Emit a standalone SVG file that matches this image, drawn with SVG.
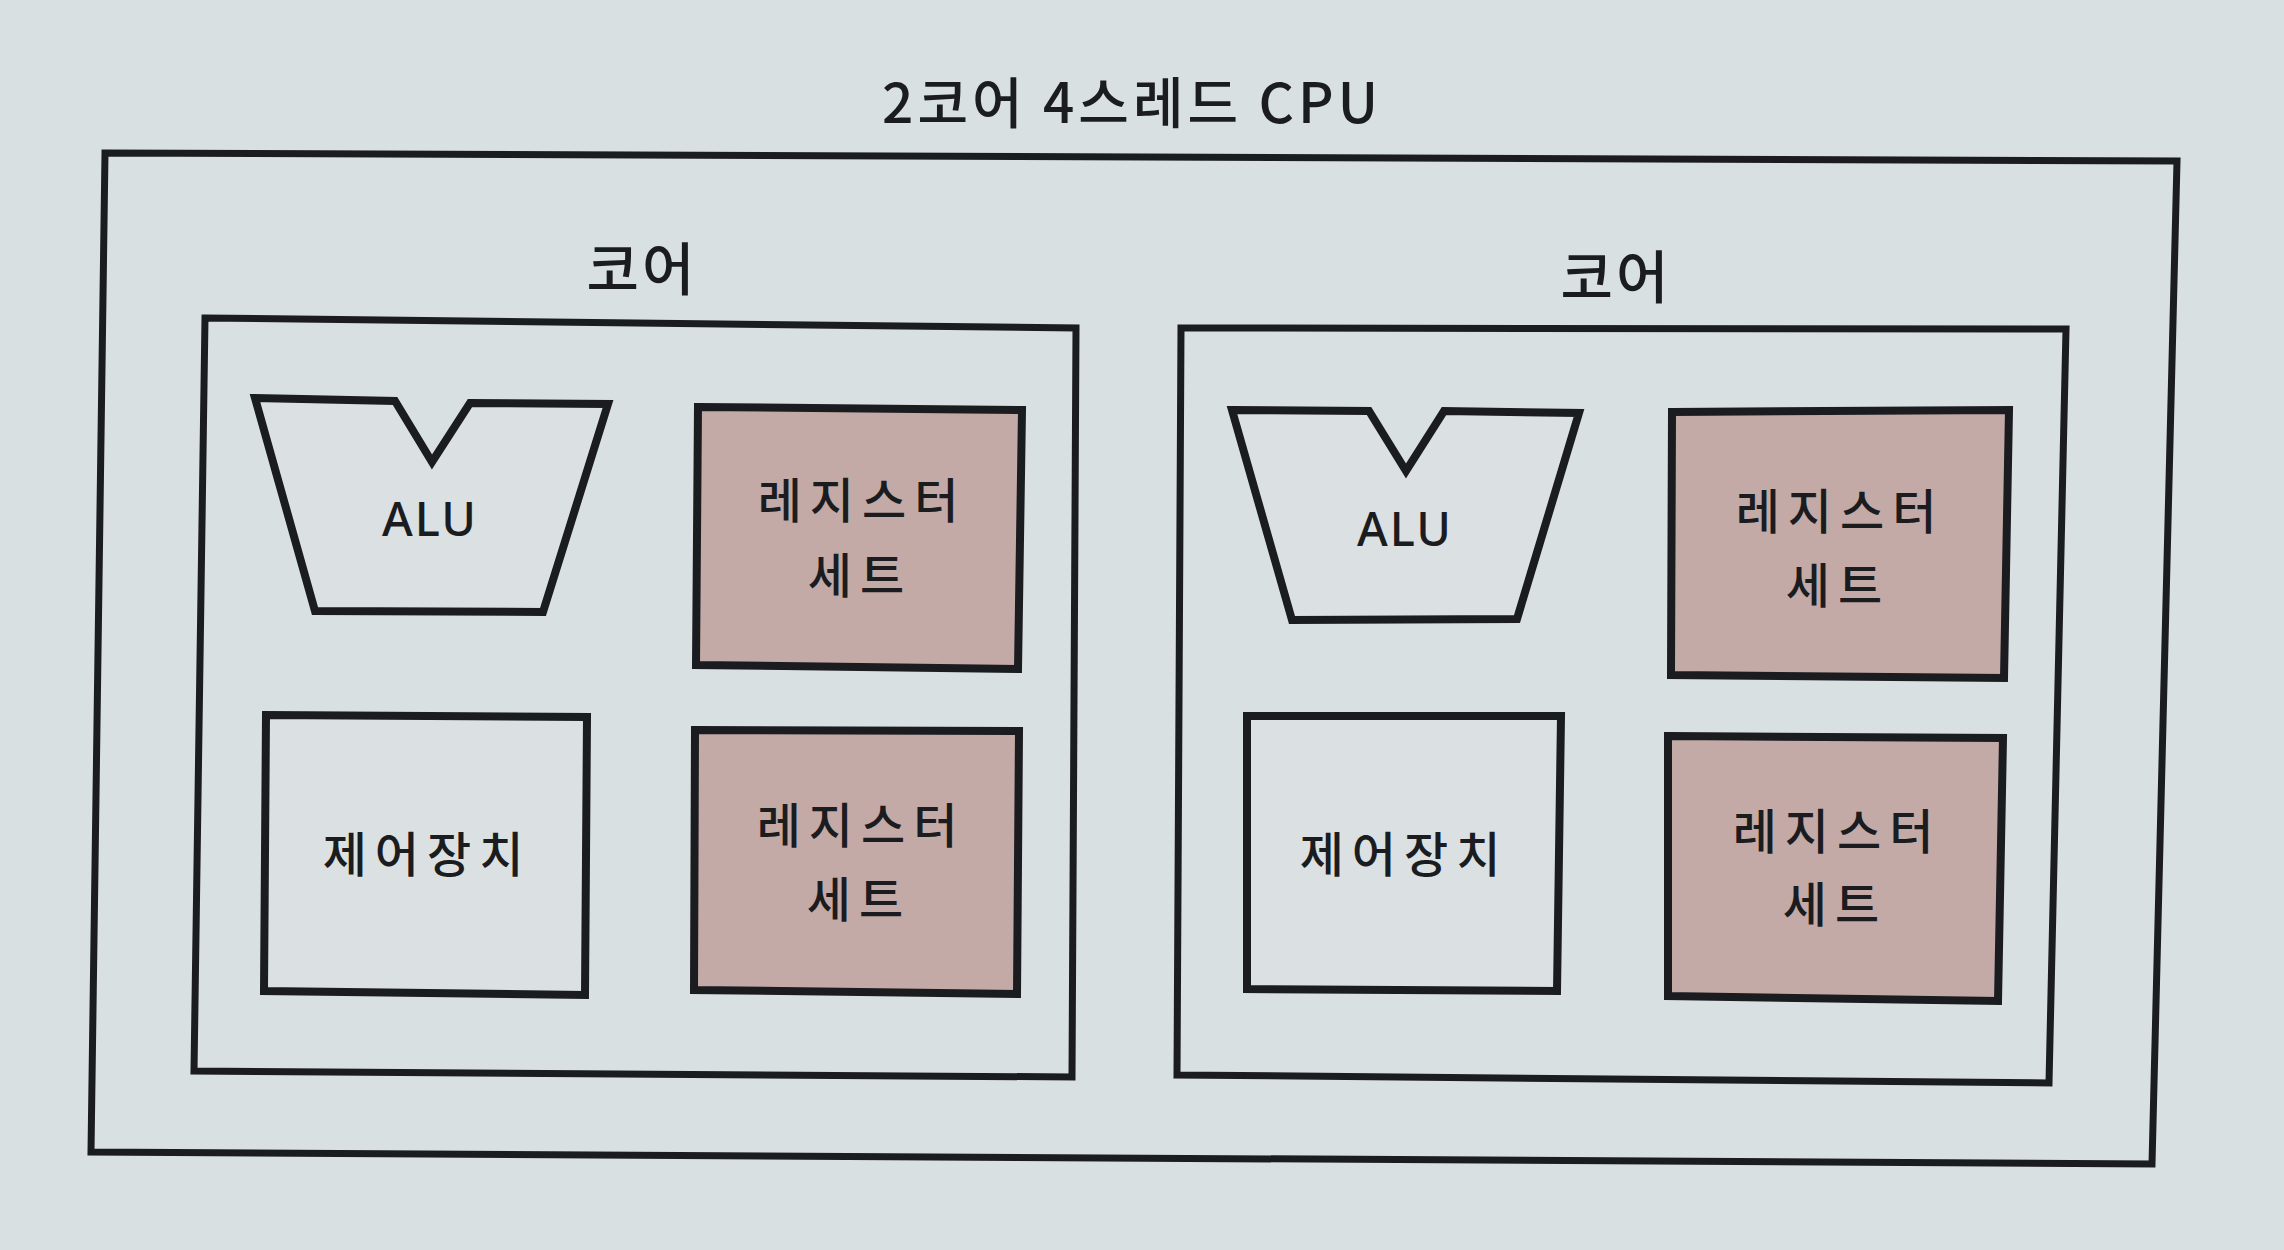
<svg xmlns="http://www.w3.org/2000/svg" width="2284" height="1250" viewBox="0 0 2284 1250">
<style>
.bg{fill:#d9e0e2}
.frame{fill:none;stroke:#1b1c20;stroke-width:7;stroke-linejoin:miter}
.shape{fill:#dbe1e3;stroke:#1b1c20;stroke-width:8;stroke-linejoin:miter}
.reg{fill:#c4aaa7;stroke:#1b1c20;stroke-width:8;stroke-linejoin:miter}
.ko{font-family:"Noto Sans CJK KR","Noto Sans",sans-serif;fill:#1b1c20;text-anchor:middle;font-weight:500}
.lat{font-family:"Noto Sans","Liberation Sans",sans-serif;fill:#1b1c20;text-anchor:middle;font-weight:500}
.title{font-size:55px;letter-spacing:4px}
.core{font-size:57px;letter-spacing:3px}
.lbl{font-size:48px;letter-spacing:8px}
.alu{font-size:47px;letter-spacing:2px}
</style>
<rect class="bg" x="0" y="0" width="2284" height="1250"/>

<g id="cpu">
  <polygon class="frame" points="105,153 2177,161 2152,1164 91,1152"/>
  <text class="ko title" x="1132" y="123">2코어 4스레드 CPU</text>
</g>

<g id="core-left">
  <polygon class="frame" points="205,318 1076,328 1072,1077 194,1071"/>
  <text class="ko core" x="642" y="290">코어</text>
</g>

<g id="alu-left">
  <polygon class="shape" points="255,398 395,401 432,462 470,403 608,404 543,612 315,611"/>
  <text class="lat alu" x="430" y="536">ALU</text>
</g>

<g id="reg-left-1">
  <polygon class="reg" points="698,407 1022,410 1018,669 696,665"/>
  <text class="ko lbl" x="862" y="518">레지스터</text>
  <text class="ko lbl" x="860" y="593">세트</text>
</g>

<g id="ctrl-left">
  <polygon class="shape" points="266,715 587,717 585,995 264,991"/>
  <text class="ko lbl" x="427" y="872">제어장치</text>
</g>

<g id="reg-left-2">
  <polygon class="reg" points="695,730 1019,731 1017,994 694,990"/>
  <text class="ko lbl" x="861" y="843">레지스터</text>
  <text class="ko lbl" x="859" y="917">세트</text>
</g>

<g id="core-right">
  <polygon class="frame" points="1181,328 2066,329 2049,1083 1177,1075"/>
  <text class="ko core" x="1616" y="298">코어</text>
</g>

<g id="alu-right">
  <polygon class="shape" points="1232,410 1369,411 1406,471 1444,411 1579,413 1517,619 1292,620"/>
  <text class="lat alu" x="1405" y="546">ALU</text>
</g>

<g id="reg-right-1">
  <polygon class="reg" points="1672,412 2009,410 2004,678 1671,675"/>
  <text class="ko lbl" x="1840" y="529">레지스터</text>
  <text class="ko lbl" x="1838" y="603">세트</text>
</g>

<g id="ctrl-right">
  <polygon class="shape" points="1247,716 1561,716 1557,991 1247,989"/>
  <text class="ko lbl" x="1404" y="872">제어장치</text>
</g>

<g id="reg-right-2">
  <polygon class="reg" points="1668,736 2003,738 1998,1001 1668,996"/>
  <text class="ko lbl" x="1837" y="849">레지스터</text>
  <text class="ko lbl" x="1835" y="922">세트</text>
</g>

<g id="connectors"/>
</svg>
